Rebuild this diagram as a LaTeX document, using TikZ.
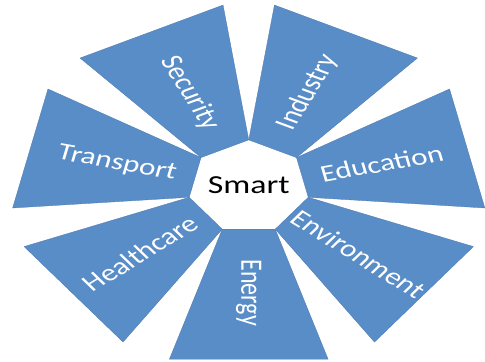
\documentclass[tikz,border=0pt]{standalone}
\usepackage{fontspec}
\setmainfont{Carlito}
\usepackage{xcolor}
\usepackage{tikz}
\usetikzlibrary{calc}
\definecolor{petalblue}{RGB}{89,141,200}
\definecolor{petalline}{RGB}{74,120,174}
\tikzstyle{petal} = [fill = petalblue, draw = petalline, line width = .3pt]
\tikzstyle{lbl} = [draw = none, inner sep = 1, text = white, font = \fontsize{24}{24}\selectfont, transform shape]

\begin{document}
\begin{tikzpicture}[x = 1pt, y = 1pt, xscale = 1.3]
\path [fill = white] (-191.5, -175) rectangle (181.5, 187);
\node [draw = none, inner sep = 1, font = \fontsize{26}{26}\selectfont, transform shape] (smart) at (0, 2) {Smart};
% seven petals round a heptagon of radius 47
\foreach \name/\turn/\r [count = \k from 0] in {Security/-180/104, Transport/-180/104, Healthcare/-180/107, Energy/0/106, Environment/0/108, Education/0/105, Industry/0/105} {
  \pgfmathsetmacro{\c}{115.71 + 51.43*\k}
  \coordinate (\name-a) at ({\c - 25.71}:47);
  \coordinate (\name-b) at ({\c + 25.71}:47);
  \draw [petal] (\name-a) -- ({\c - 19.5}:183) -- ({\c + 19.5}:183) -- (\name-b) -- cycle;
  \node [lbl, rotate = \c + \turn] (\name) at (\c:\r) {\name};
}
\end{tikzpicture}
\end{document}
